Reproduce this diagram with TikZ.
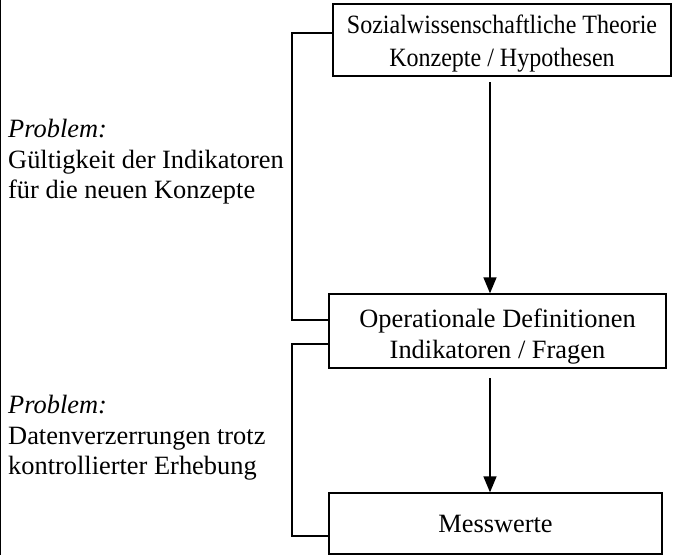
\documentclass[tikz,border=0pt]{standalone}
\usepackage{fontspec}
\setmainfont{Liberation Serif}
\newfontfamily\narrowserif{Liberation Serif}[FakeStretch=0.91]
\usetikzlibrary{arrows.meta, positioning}

\tikzset{
	box/.style={draw, line width=1.3pt, align=center, inner sep=0pt,
		font=\fontsize{26.4}{31}\selectfont},
	note/.style={anchor=north west, align=left, inner sep=0pt,
		font=\fontsize{26.4}{30.5}\selectfont},
	link/.style={line width=1.4pt},
}

\begin{document}
\begin{tikzpicture}[x=1pt, y=-1pt, >={Triangle[width=13pt, length=16pt]}]
	\useasboundingbox (0,0) rectangle (675,555);
	\draw[line width=1pt] (0.5,0) -- (0.5,555);

	% boxes (the rules push the text a little down)
	\node[box, minimum width=338pt, minimum height=72pt,
		font=\narrowserif\fontsize{26.4}{33}\selectfont] (theorie) at (502,40)
		{\rule{0pt}{25pt}Sozialwissenschaftliche Theorie\\Konzepte / Hypothesen};
	\node[box, minimum width=337pt, minimum height=74pt] (opdef) at (497.5,331)
		{\rule{0pt}{29pt}Operationale Definitionen\\Indikatoren / Fragen};
	\node[box, minimum width=333pt, minimum height=61pt] (mess) at (495.5,523.5)
		{Messwerte};

	\node[note] (prob1) at (8,119)
		{\textit{Problem:}\\G\"ultigkeit der Indikatoren\\f\"ur die neuen Konzepte};
	\node[note] (prob2) at (8,395)
		{\textit{Problem:}\\Datenverzerrungen trotz\\kontrollierter Erhebung};

	% arrows
	\coordinate (a1) at (490,82);
	\coordinate (a2) at (490,378);
	\draw[link, ->] (a1) -- (a1 |- opdef.north);
	\draw[link, ->] (a2) -- (a2 |- mess.north);

	% brackets on the left
	\coordinate (b1) at (292,33);
	\coordinate (b2) at (292,320);
	\coordinate (b3) at (292,344);
	\coordinate (b4) at (292,536);
	\draw[link] (b1 -| theorie.west) -- (b1) -- (b2) -- (b2 -| opdef.west);
	\draw[link] (b3 -| opdef.west) -- (b3) -- (b4) -- (b4 -| mess.west);
\end{tikzpicture}
\end{document}
